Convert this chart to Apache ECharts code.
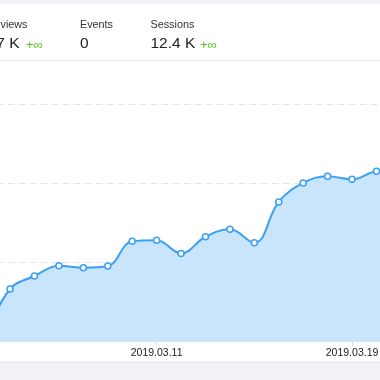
<!DOCTYPE html>
<html>
<head>
<meta charset="utf-8">
<script src="https://cdn.jsdelivr.net/npm/echarts@6/dist/echarts.min.js"></script>
<style>
html,body{margin:0;padding:0;background:#fff;overflow:hidden;width:380px;height:380px;}
#chart{position:absolute;left:-20px;top:0;width:430px;height:380px;}
</style>
</head>
<body>
<div id="chart"></div>
<script>
// ---- data ----
const dates = ['2019.03.04','2019.03.05','2019.03.06','2019.03.07','2019.03.08','2019.03.09','2019.03.10','2019.03.11','2019.03.12','2019.03.13','2019.03.14','2019.03.15','2019.03.16','2019.03.17','2019.03.18','2019.03.19','2019.03.20','2019.03.21'];
const sessions = [35, 333, 415, 480, 468, 478, 634, 641, 558, 663, 710, 625, 883, 1003, 1045, 1026, 1077, 1085];
const tickLabels = ['2019.03.11', '2019.03.19'];
const yMin = 0, yMax = 1500, yStep = 500;
const statLabels = ['Pageviews', 'Events', 'Sessions'];
const statValues = ['7 K', '0', '12.4 K'];
const statChanges = ['+∞', '', '+∞'];

const FONT = '"Liberation Sans", Arial, sans-serif';
const OX = 20; // the canvas starts 20px left of the visible window
const chart = echarts.init(document.getElementById('chart'), null, {renderer: 'canvas'});
const showTick = (i, v) => tickLabels.indexOf(v) >= 0;

const statX = [null, 80, 150.5];
const graphics = [
  {type:'rect', shape:{x:0,y:0,width:430,height:4}, style:{fill:'#f0f2f5'}, silent:true},
  {type:'line', shape:{x1:0,y1:60.5,x2:430,y2:60.5}, style:{stroke:'#e8e8e8', lineWidth:1}, silent:true},
  {type:'rect', shape:{x:0,y:362,width:430,height:18}, style:{fill:'#f0f2f5'}, silent:true},
  {type:'line', shape:{x1:0,y1:362,x2:430,y2:362}, style:{stroke:'#e3e3e3', lineWidth:1}, silent:true}
];
graphics.push({type:'text', x:OX+27.5, y:25.5, style:{text:statLabels[0], font:'10.8px '+FONT, fill:'#333', align:'right', verticalAlign:'middle'}});
graphics.push({type:'text', x:OX+19.5, y:43.5, style:{text:statValues[0], font:'15.5px '+FONT, fill:'#222', align:'right', verticalAlign:'middle'}});
graphics.push({type:'text', x:OX+26, y:45, style:{text:statChanges[0], font:'13px '+FONT, fill:'#52c41a', align:'left', verticalAlign:'middle'}});
for (let i = 1; i < statLabels.length; i++) {
  graphics.push({type:'text', x:OX+statX[i], y:25.5, style:{text:statLabels[i], font:'10.8px '+FONT, fill:'#333', align:'left', verticalAlign:'middle'}});
  graphics.push({type:'text', x:OX+statX[i], y:43.5, style:{text:statValues[i], font:'15.5px '+FONT, fill:'#222', align:'left', verticalAlign:'middle'}});
}
graphics.push({type:'text', x:OX+200, y:45, style:{text:statChanges[2], font:'13px '+FONT, fill:'#52c41a', align:'left', verticalAlign:'middle'}});

chart.setOption({
  backgroundColor: '#fff',
  animation: false,
  graphic: graphics,
  grid: {left: OX - 14.4, right: 430 - OX - 400.9, top: 104.3, bottom: 38.3, containLabel: false},
  xAxis: {
    type: 'category',
    data: dates,
    boundaryGap: false,
    axisLine: {show: true, lineStyle: {color: '#e8e8e8'}},
    axisTick: {show: true, interval: showTick, length: 4, lineStyle: {color: '#d9d9d9'}},
    axisLabel: {interval: showTick, color: '#222', fontSize: 10.5, fontFamily: FONT, margin: 6}
  },
  yAxis: {
    type: 'value',
    min: yMin, max: yMax, interval: yStep,
    axisLabel: {show: false},
    axisLine: {show: false},
    axisTick: {show: false},
    splitLine: {show: true, lineStyle: {color: '#e6e6e6', type: [7, 4], width: 1}}
  },
  series: [{
    type: 'line',
    data: sessions,
    smooth: 0.4,
    symbol: 'circle',
    symbolSize: 6,
    showAllSymbol: true,
    lineStyle: {color: '#3ba0f3', width: 2},
    itemStyle: {color: '#fff', borderColor: '#3ba0f3', borderWidth: 1.5},
    areaStyle: {color: '#c9e5fb', opacity: 1}
  }]
});
</script>
</body>
</html>
